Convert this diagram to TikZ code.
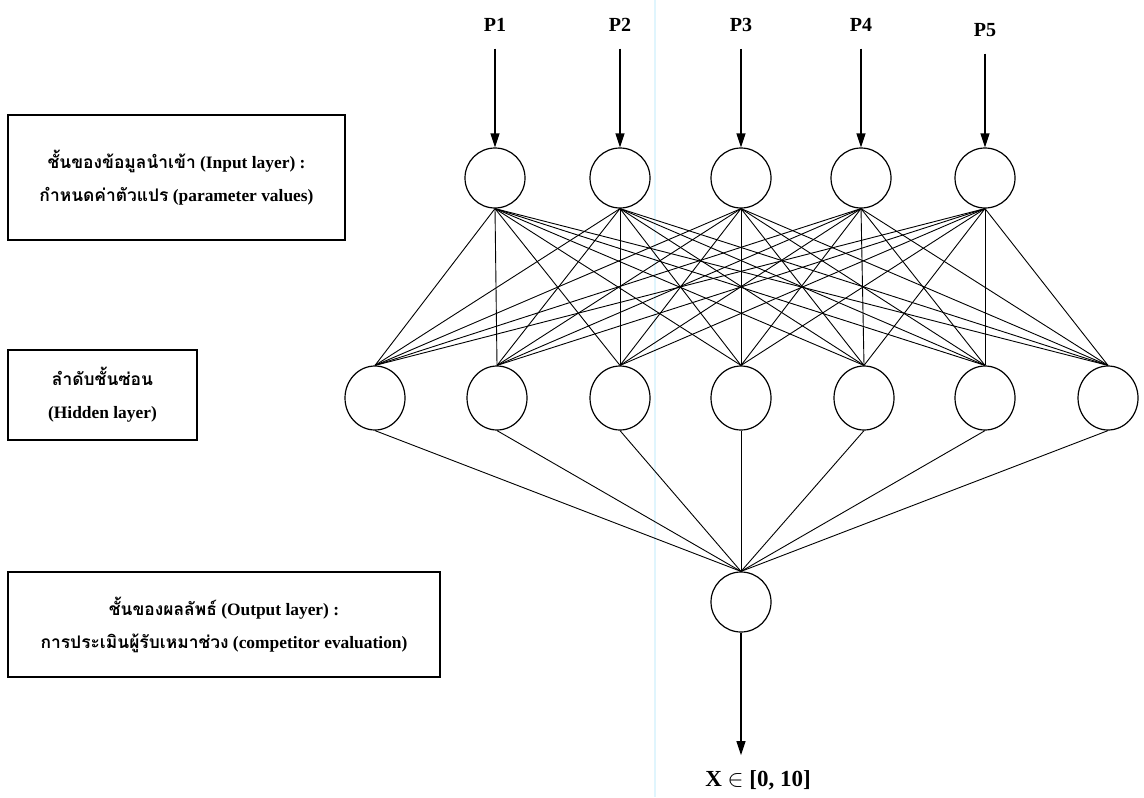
\documentclass[tikz,border=0pt]{standalone}
\usepackage{fontspec}
\setmainfont{Liberation Serif}
\newfontfamily\thaifont[Script=Thai]{Loma}
\usetikzlibrary{shapes,arrows.meta}

\begin{document}
\begin{tikzpicture}[x=0.5pt,y=-0.5pt]
\tikzstyle{neuron}=[circle,draw,line width=0.6pt,minimum size=30pt,inner sep=0pt]
\tikzstyle{hneuron}=[ellipse,draw,line width=0.6pt,minimum width=30pt,minimum height=32pt,inner sep=0pt]
\tikzstyle{layerbox}=[draw,line width=0.7pt,align=center,font=\bfseries\fontsize{8.7}{16.5}\selectfont]
\tikzstyle{plabel}=[font=\bfseries\fontsize{10}{12}\selectfont]
\tikzstyle{feed}=[-{Triangle[length=7pt,width=4.5pt]},line width=0.6pt]

\useasboundingbox (0,0) rectangle (1144,797);
\draw[cyan!12,line width=0.6pt] (655,0) -- (655,797);

% input layer
\foreach \x/\y [count=\i] in {495/25,620/25,741/25,861/25,985/30}{
  \node[neuron] (i\i) at (\x,178) {};
  \node[plabel] (p\i) at (\x,\y) {P\i};
  \draw[feed,shorten <=5pt] (p\i.south) -- (i\i.north);
}

% hidden layer
\foreach \x [count=\j] in {375,497,620,741,864,985,1108}
  \node[hneuron] (h\j) at (\x,398) {};

% output layer
\node[neuron] (o) at (741,602) {};
\node[font=\bfseries\fontsize{11.5}{13}\selectfont] (x) at (758,780) {X $\in$ [0, 10]};
\draw[feed,shorten >=4pt] (o.south) -- (o.south |- x.north);

\foreach \i in {1,...,5}
  \foreach \j in {1,...,7}
    \draw[line width=0.45pt] (i\i.south) -- (h\j.north);
\foreach \j in {1,...,7}
  \draw[line width=0.45pt] (h\j.south) -- (o.north);

% layer descriptions
\node[layerbox,minimum width=168.5pt,minimum height=62.5pt] (inbox) at (176.5,177.5)
  {{\thaifont ชั้นของข้อมูลนำเข้า} (Input layer) :\\{\thaifont กำหนดค่าตัวแปร} (parameter values)};
\node[layerbox,minimum width=94.5pt,minimum height=45pt] (hidbox) at (102.5,395)
  {{\thaifont ลำดับชั้นซ่อน}\\(Hidden layer)};
\node[layerbox,minimum width=216pt,minimum height=52.5pt] (outbox) at (224,624.5)
  {{\thaifont ชั้นของผลลัพธ์} (Output layer) :\\{\thaifont การประเมินผู้รับเหมาช่วง} (competitor evaluation)};
\end{tikzpicture}
\end{document}
